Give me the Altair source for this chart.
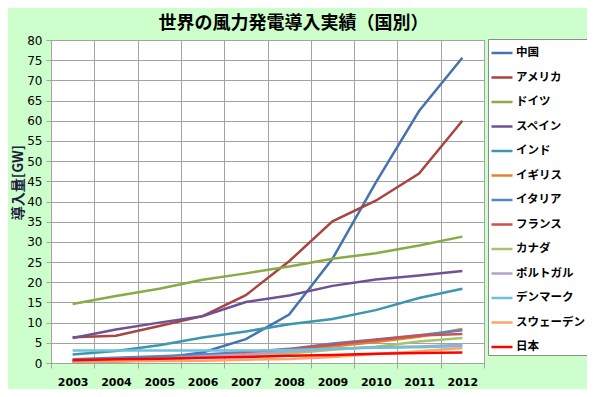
import altair as alt
import pandas as pd

years = ["2003", "2004", "2005", "2006", "2007", "2008", "2009", "2010", "2011", "2012"]
countries = ["中国", "アメリカ", "ドイツ", "スペイン", "インド", "イギリス", "イタリア",
             "フランス", "カナダ", "ポルトガル", "デンマーク", "スウェーデン", "日本"]

china    = [0.57, 0.76, 1.26, 2.6, 5.9, 12.0, 25.8, 44.7, 62.4, 75.6]
usa      = [6.35, 6.75, 9.15, 11.6, 16.8, 25.2, 35.1, 40.2, 46.9, 60.0]
germany  = [14.6, 16.6, 18.4, 20.6, 22.2, 23.9, 25.8, 27.2, 29.1, 31.3]
spain    = [6.2, 8.3, 10.0, 11.6, 15.1, 16.7, 19.1, 20.7, 21.7, 22.8]
india    = [2.1, 3.0, 4.4, 6.3, 7.8, 9.6, 10.9, 13.1, 16.1, 18.4]
uk       = [0.65, 0.89, 1.35, 1.96, 2.4, 3.2, 4.1, 5.2, 6.5, 8.4]
italy    = [0.9, 1.27, 1.7, 2.1, 2.7, 3.5, 4.85, 5.8, 6.9, 8.1]
france   = [0.25, 0.39, 0.76, 1.57, 2.45, 3.4, 4.5, 5.7, 6.8, 7.2]
canada   = [0.32, 0.44, 0.68, 1.46, 1.85, 2.37, 3.3, 4.0, 5.3, 6.2]
portugal = [0.3, 0.52, 1.02, 1.7, 2.15, 2.86, 3.5, 3.9, 4.1, 4.5]
denmark  = [3.1, 3.1, 3.1, 3.1, 3.1, 3.2, 3.5, 3.8, 3.9, 4.2]
sweden   = [0.4, 0.44, 0.5, 0.57, 0.83, 1.0, 1.5, 2.2, 2.9, 3.7]
japan    = [0.68, 0.9, 1.06, 1.3, 1.5, 1.8, 2.0, 2.3, 2.5, 2.6]

series = [china, usa, germany, spain, india, uk, italy, france, canada,
          portugal, denmark, sweden, japan]

colors = ["#4673AD", "#A9443F", "#8AAA46", "#6E5295", "#3C96AE", "#E3822E", "#5585C5",
          "#C9534F", "#A7C46D", "#B2A1CC", "#6DC1DA", "#F9A66A", "#FF0000"]
widths = [2.5, 2.5, 2.5, 2.5, 2.5, 1.3, 1.3, 1.3, 1.3, 1.3, 1.3, 1.3, 3.5]

rows = []
for c, vals in zip(countries, series):
    for y, v in zip(years, vals):
        rows.append({"country": c, "year": y, "value": v})
df = pd.DataFrame(rows)

FONT = "Noto Sans CJK JP"
NUMFONT = "DejaVu Sans"
GRID = "#A3A3A3"

lines = alt.Chart(df).mark_line().encode(
    x=alt.X("year:O", bandPosition=0.5,
            scale=alt.Scale(type="band", paddingInner=0, paddingOuter=0),
            axis=alt.Axis(title=None, labelAngle=0, labelFontWeight="bold", labelFontSize=11,
                          labelFont=NUMFONT, labelColor="#000000", tickBand="extent",
                          grid=True, gridColor=GRID, domainColor=GRID, tickColor=GRID,
                          tickSize=5, labelPadding=8)),
    y=alt.Y("value:Q", scale=alt.Scale(domain=[0, 80], nice=False),
            axis=alt.Axis(values=list(range(0, 81, 5)), title="導入量[GW]",
                          titleFontSize=14, titleFontWeight="bold", titleColor="#1F1F3F",
                          titleFont=FONT, titleAngle=-90, titleX=-33, titleY=142,
                          titleAlign="center", titleBaseline="middle",
                          labelFont=NUMFONT, labelFontSize=12, labelColor="#000000",
                          grid=True, gridColor=GRID, domainColor=GRID, tickColor=GRID,
                          tickSize=5, labelPadding=4)),
    color=alt.Color("country:N", scale=alt.Scale(domain=countries, range=colors),
                    legend=alt.Legend(title=None)),
    strokeWidth=alt.StrokeWidth("country:N", scale=alt.Scale(domain=countries, range=widths),
                                legend=alt.Legend(title=None)),
)

chart = lines.properties(
    width=433, height=323,
    autosize=alt.AutoSizeParams(type="none"),
    padding={"left": 43, "top": 32, "right": 103, "bottom": 26},
    background="#CCFFCC",
    title=alt.Title("世界の風力発電導入実績（国別）", fontSize=18, fontWeight="bold",
                    font=FONT, color="#000000", anchor="middle", frame="group",
                    baseline="bottom", dx=26, dy=27, offset=10),
).configure(font=FONT).configure_view(
    stroke=GRID, fill="#FFFFFF"
).configure_legend(
    orient="none", legendX=437, legendY=-1, fillColor="#FFFFFF", strokeColor="#8C8C8C",
    padding=2, symbolType="stroke", symbolSize=441, rowPadding=6.5, labelFontSize=11.5,
    labelFontWeight="bold", labelColor="#000000", labelOffset=2, labelFont=FONT,
    labelLimit=200
)

chart.save("out.html", embed_options={"renderer": "svg", "actions": False})
